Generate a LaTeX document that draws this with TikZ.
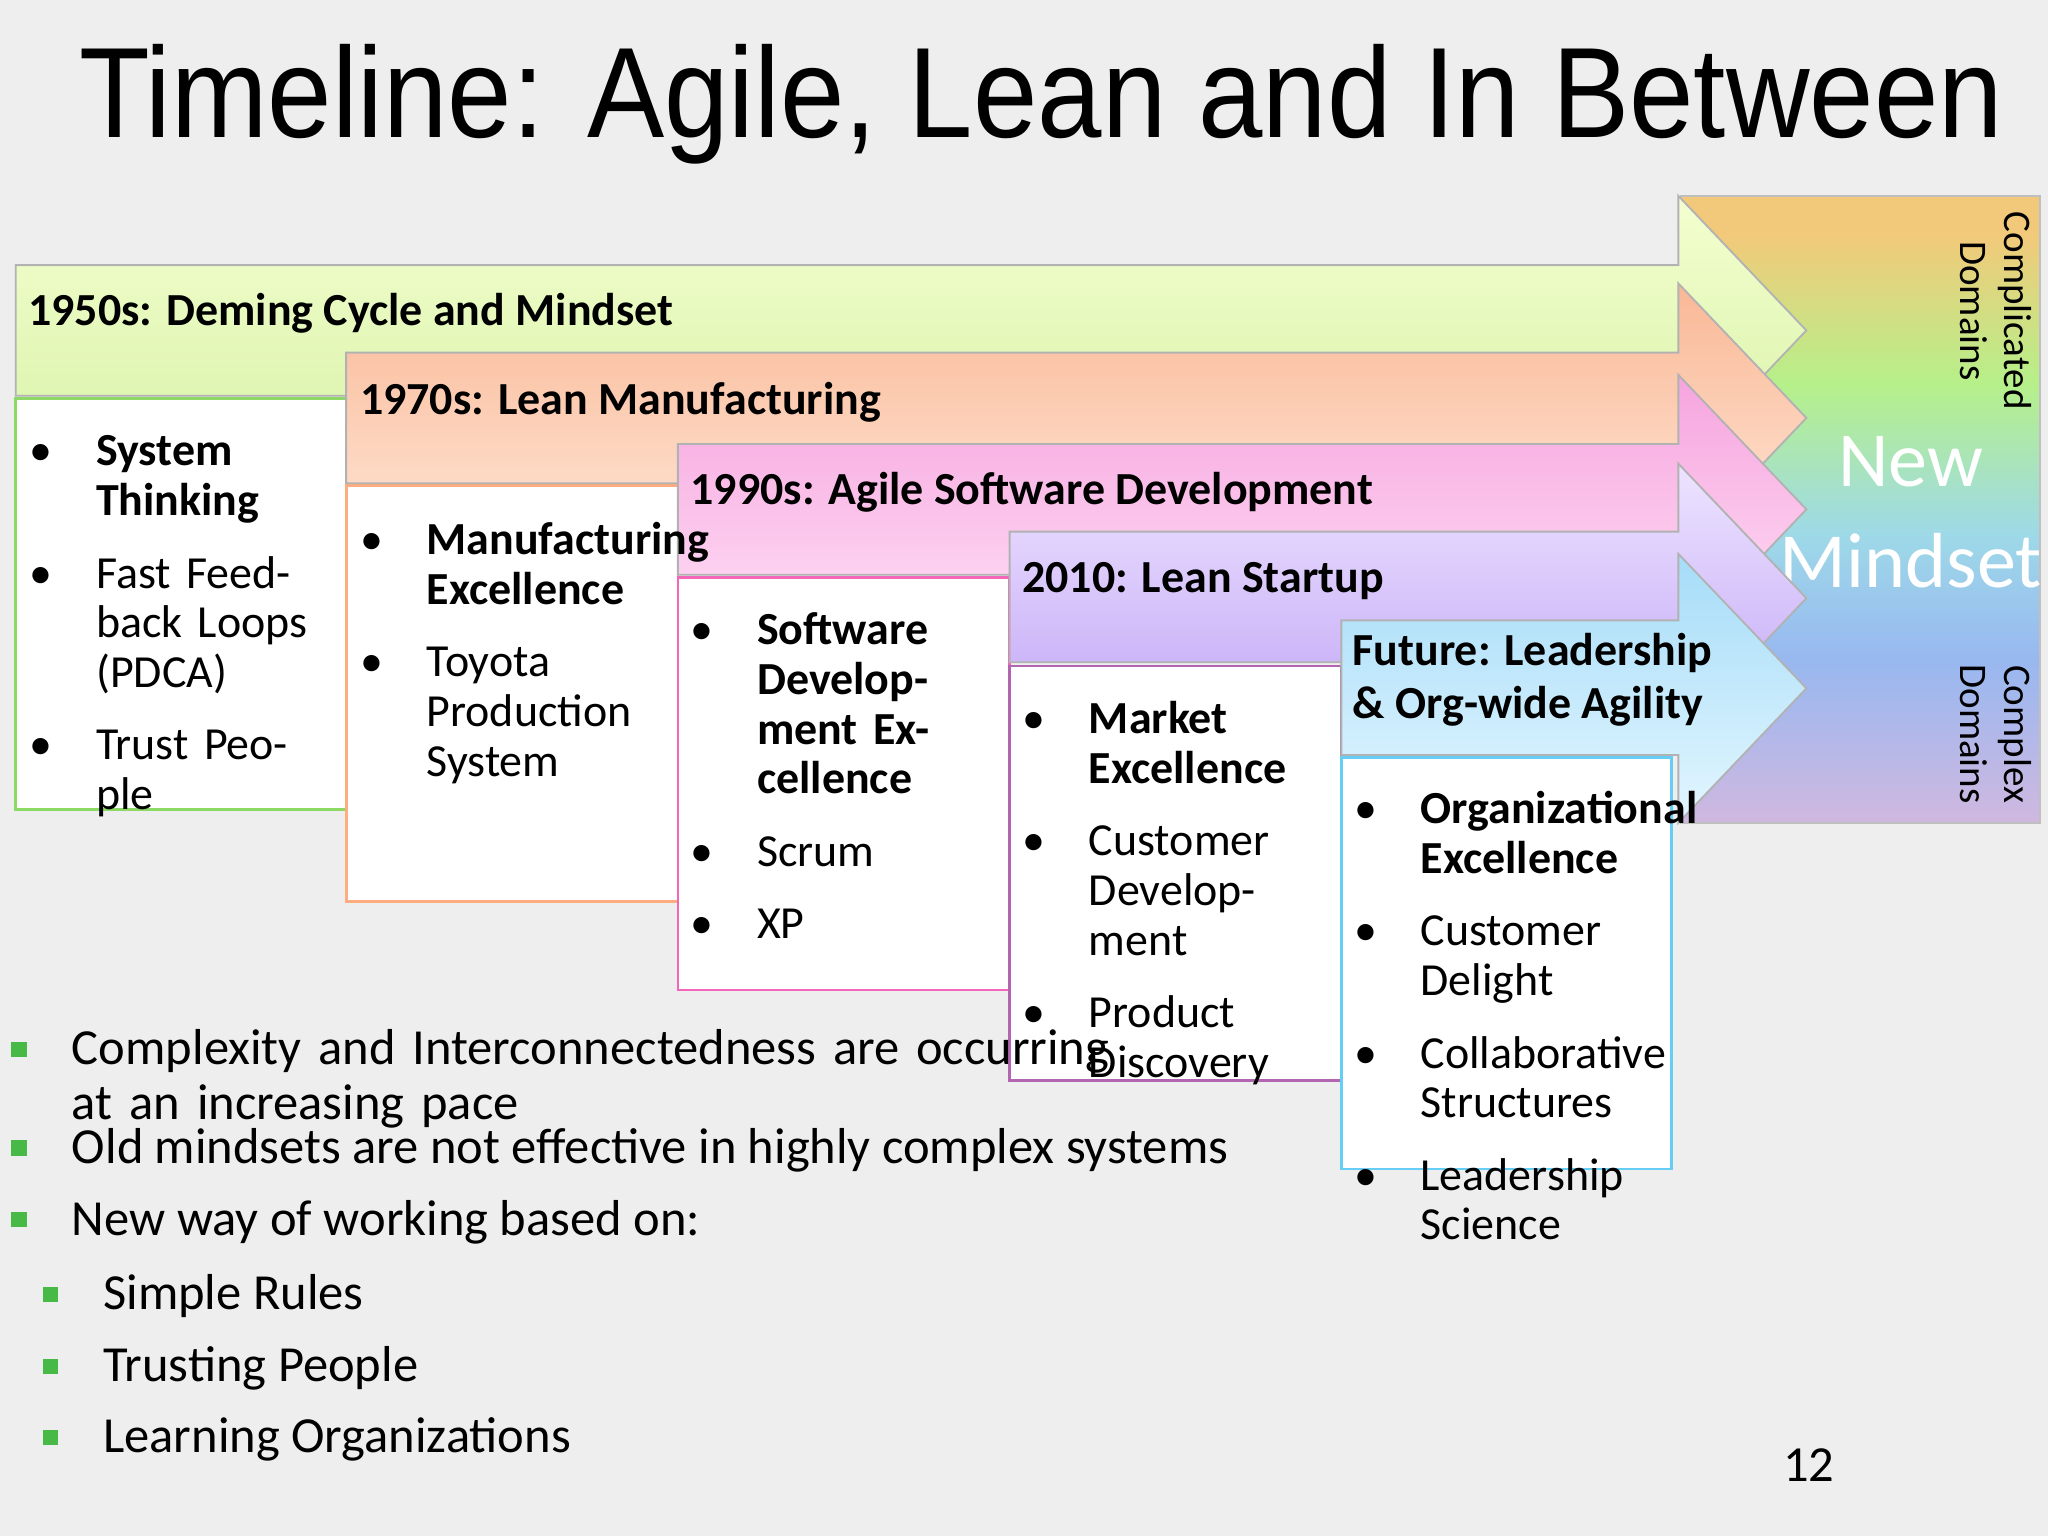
\documentclass[tikz,border=0pt]{standalone}
\usepackage{fontspec}
\setmainfont{Carlito}
\newfontfamily\titlefont{Liberation Sans}
\definecolor{bg}{HTML}{EEEEEE}
\definecolor{rA}{HTML}{F2C97A}
\definecolor{rB}{HTML}{B6F08A}
\definecolor{rC}{HTML}{9ED9E8}
\definecolor{rD}{HTML}{98B8F0}
\definecolor{rE}{HTML}{D0B8E0}
\definecolor{g1}{HTML}{F4FFD0}\definecolor{g2}{HTML}{D8F2A8}
\definecolor{o1}{HTML}{FFE6D6}\definecolor{o2}{HTML}{F9B896}
\definecolor{p1}{HTML}{FFE0F6}\definecolor{p2}{HTML}{F6A4DE}
\definecolor{v1}{HTML}{EDE4FF}\definecolor{v2}{HTML}{C2A6F6}
\definecolor{c1}{HTML}{E2F6FF}\definecolor{c2}{HTML}{A6DCF8}
\pgfdeclareverticalshading{rainbowx}{100bp}{color(0bp)=(rE); color(25bp)=(rE); color(38bp)=(rD); color(48bp)=(rC); color(60bp)=(rB); color(72bp)=(rA); color(75bp)=(rA); color(100bp)=(rA)}
\newcommand\bi[1]{\par\noindent\hangindent=1.45em\hangafter=1\makebox[1.45em][l]{\textbullet}#1\par\vspace{5pt}}
\newcommand\sqb[1]{\par\noindent\hangindent=1.2em\hangafter=1\makebox[1.2em][l]{\color{green!45!gray}\rule[0.15em]{0.3em}{0.3em}}#1\par}
\tikzset{
 lbl/.style={anchor=west,font=\bfseries\fontsize{10}{12}\selectfont,inner sep=0pt},
 cbox/.style={draw=#1,fill=white,line width=0.6pt},
 ctext/.style={anchor=north west,text width=2.15cm,inner sep=0pt,font=\fontsize{10}{10.8}\selectfont,align=left},
}
\newcommand\arr[6]{% x, top, bot, tip, topcol, botcol
 \path[draw=gray!60,line width=0.4pt,top color=#5,bottom color=#6]
   (#1,#2) -- (1285,#2) -- (1285,#4-103) -- (1383,#4) -- (1285,#4+103) -- (1285,#3) -- (#1,#3) -- cycle;}
\begin{document}
\begin{tikzpicture}[x=0.01cm,y=-0.01cm]
\useasboundingbox (0,0) rectangle (1568,1176);
\fill[bg] (0,0) rectangle (1568,1176);
\node[anchor=base west,inner sep=0pt,font=\titlefont\fontsize{28}{30}\selectfont] (title) at (60,105) {\scalebox{0.9}[1]{Timeline: Agile, Lean and In Between}};
% right panel
\shade[shading=rainbowx,draw=gray!50] (1287,150) rectangle (1562,630);
\node[font=\fontsize{17}{22}\selectfont,text=white,align=center] (nm) at (1463,392) {New\\Mindset};
\node[rotate=-90,font=\fontsize{8.5}{9.5}\selectfont,align=center] (cd) at (1528,238) {Complicated\\Domains};
\node[rotate=-90,font=\fontsize{8.5}{9.5}\selectfont,align=center] (cx) at (1528,562) {Complex\\Domains};
% content boxes
\draw[cbox=green!50!olive!60] (12,305) rectangle (265,620);
\draw[cbox=orange!70!red!50] (265,372) rectangle (519,690);
\draw[cbox=magenta!60] (519,442) rectangle (773,758);
\draw[cbox=violet!60] (773,510) rectangle (1027,827);
\draw[cbox=cyan!60] (1027,580) rectangle (1280,895);
% arrows
\arr{12}{203}{303}{253}{g1}{g2}
\node[lbl] (a1) at (21,240) {1950s: Deming Cycle and Mindset};
\arr{265}{270}{370}{320}{o2}{o1}
\node[lbl] (a2) at (275,308) {1970s: Lean Manufacturing};
\arr{519}{340}{440}{390}{p2}{p1}
\node[lbl] (a3) at (528,377) {1990s: Agile Software Development};
\arr{773}{407}{507}{458}{v1}{v2}
\node[lbl] (a4) at (782,445) {2010: Lean Startup};
\arr{1027}{475}{578}{527}{c2}{c1}
\node[lbl,anchor=north west,align=left,font=\bfseries\fontsize{10}{11.5}\selectfont] (a5) at (1035,484) {Future: Leadership\\\& Org-wide Agility};
% texts
\node[ctext] (t1) at (22,318) {\bi{\textbf{System Thinking}}\bi{Fast Feedback Loops (PDCA)}\bi{Trust People}};
\node[ctext] (t2) at (275,386) {\bi{\textbf{Manufacturing Excellence}}\bi{Toyota Production System}};
\node[ctext] (t3) at (528,455) {\bi{\textbf{Software Development Excellence}}\bi{Scrum}\bi{XP}};
\node[ctext] (t4) at (782,523) {\bi{\textbf{Market Excellence}}\bi{Customer Development}\bi{Product Discovery}};
\node[ctext] (t5) at (1036,592) {\bi{\textbf{Organizational Excellence}}\bi{Customer Delight}\bi{Collaborative Structures}\bi{Leadership Science}};
% bottom bullets
\node[anchor=north west,inner sep=0pt,text width=8.6cm,font=\fontsize{11}{12}\selectfont,align=left] (b1) at (8,772) {\sqb{Complexity and Interconnectedness are occurring at an increasing pace}};
\node[anchor=north west,inner sep=0pt,font=\fontsize{11}{12}\selectfont,align=left] (b2) at (8,863) {\sqb{Old mindsets are not effective in highly complex systems}};
\node[anchor=north west,inner sep=0pt,font=\fontsize{11}{12}\selectfont,align=left] (b3) at (8,918) {\sqb{New way of working based on:}};
\node[anchor=north west,inner sep=0pt,font=\fontsize{11}{12}\selectfont,align=left] (b4) at (32,975) {\sqb{Simple Rules}};
\node[anchor=north west,inner sep=0pt,font=\fontsize{11}{12}\selectfont,align=left] (b5) at (32,1030) {\sqb{Trusting People}};
\node[anchor=north west,inner sep=0pt,font=\fontsize{11}{12}\selectfont,align=left] (b6) at (32,1085) {\sqb{Learning Organizations}};
\node[font=\fontsize{11}{12}\selectfont] (pg) at (1385,1122) {12};
\end{tikzpicture}
\end{document}
